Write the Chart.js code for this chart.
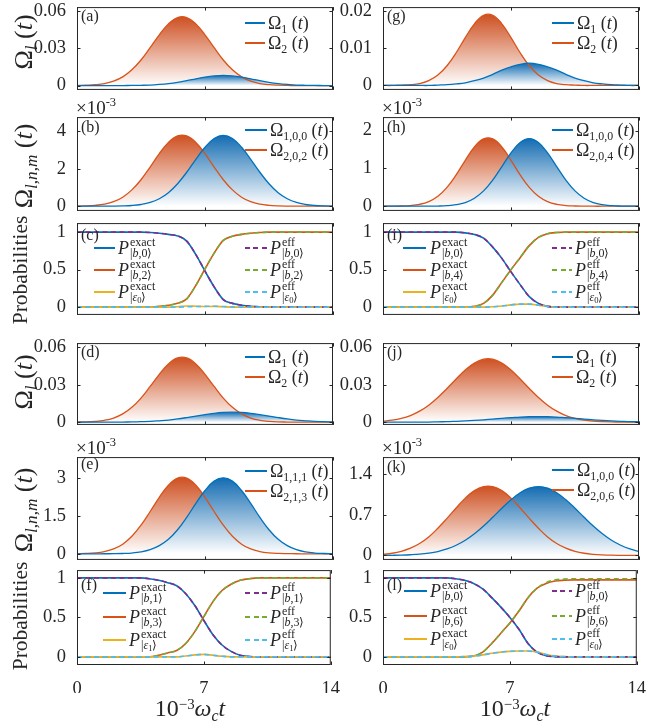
<!DOCTYPE html>
<html>
<head>
<meta charset="utf-8">
<title>Pulses and populations</title>
<script src="https://cdn.jsdelivr.net/npm/chart.js@4.4.1/dist/chart.umd.min.js"></script>
<style>
  html, body { margin: 0; padding: 0; background: #fff; }
  body { position: relative; width: 668px; height: 721px; overflow: hidden; color: #262626; }
  canvas { position: absolute; }
  .t { position: absolute; white-space: nowrap; line-height: 1; }
  .rot { transform: translate(-50%, -50%) rotate(-90deg); }
  .ctr { transform: translate(-50%, -50%); }
  .mid { transform: translateY(-50%); }
  .sb { font-size: 0.66em; vertical-align: -0.3em; line-height: 0; }
  .sp { font-size: 0.66em; vertical-align: 0.6em; line-height: 0; }
  .sp2 { font-size: 0.62em; vertical-align: 0.45em; line-height: 0; }
  .key { position: absolute; height: 2px; }
  .pl { position: absolute; height: 18px; line-height: 18px; transform: translateY(-50%); white-space: nowrap; }
  .pl .u, .pl .d { position: absolute; left: 12px; line-height: 11px; font-style: normal; }
  .pl .u { top: -2.5px; }
  .pl .d { top: 9px; }
  .pl .e { font-size: 0.72em; vertical-align: -2px; }
</style>
</head>
<body>
<script>
const T = [0,0.5,1,1.5,2,2.5,3,3.5,4,4.5,5,5.5,6,6.5,7,7.5,8,8.5,9,9.5,10,10.5,11,11.5,12,12.5,13,13.5,14];
const X_TICKS = [0, 7, 14];

// pulse amplitudes (blue = Omega_1 family, orange = Omega_2 family)
const a_om1 = [0,0,0,0,0,0,0.0001,0.0002,0.0004,0.0009,0.0016,0.0026,0.0039,0.0054,0.0068,0.0078,0.0082,0.0078,0.0068,0.0054,0.0039,0.0026,0.0016,0.0009,0.0004,0.0002,0.0001,0,0];
const a_om2 = [0.0001,0.0003,0.0007,0.0016,0.0036,0.0070,0.0127,0.0206,0.0305,0.0409,0.0497,0.0548,0.0548,0.0497,0.0409,0.0305,0.0206,0.0127,0.0070,0.0036,0.0016,0.0007,0.0003,0.0001,0,0,0,0,0];
const b_om1 = [0,0,0,0.002,0.005,0.015,0.038,0.092,0.20,0.40,0.72,1.20,1.81,2.50,3.14,3.61,3.78,3.61,3.14,2.50,1.81,1.20,0.72,0.40,0.20,0.092,0.038,0.015,0.005];
const b_om2 = [0.006,0.017,0.046,0.11,0.24,0.48,0.87,1.41,2.09,2.80,3.40,3.75,3.75,3.40,2.80,2.09,1.41,0.87,0.48,0.24,0.11,0.046,0.017,0.006,0.002,0,0,0,0];
const d_om1 = [0,0,0,0,0,0.0001,0.0002,0.0004,0.0006,0.0011,0.0017,0.0026,0.0037,0.0049,0.0060,0.0071,0.0078,0.0080,0.0078,0.0071,0.0060,0.0049,0.0037,0.0026,0.0017,0.0011,0.0006,0.0004,0.0002];
const d_om2 = [0.0001,0.0002,0.0006,0.0015,0.0033,0.0066,0.0119,0.0193,0.0286,0.0383,0.0466,0.0514,0.0514,0.0466,0.0383,0.0286,0.0193,0.0119,0.0066,0.0033,0.0015,0.0006,0.0002,0.0001,0,0,0,0,0];
const e_om1 = [0,0,0,0.001,0.004,0.012,0.03,0.073,0.16,0.32,0.57,0.95,1.44,1.99,2.50,2.87,3.0,2.87,2.50,1.99,1.44,0.95,0.57,0.32,0.16,0.073,0.03,0.012,0.004];
const e_om2 = [0.005,0.014,0.037,0.089,0.19,0.38,0.69,1.13,1.67,2.23,2.71,2.99,2.99,2.71,2.23,1.67,1.13,0.69,0.38,0.19,0.089,0.037,0.014,0.005,0.001,0,0,0,0];
const g_om1 = [0,0,0,0,0,0,0.0001,0.0002,0.0004,0.0007,0.0013,0.0020,0.0030,0.0041,0.0050,0.0057,0.0060,0.0057,0.0050,0.0041,0.0030,0.0020,0.0013,0.0007,0.0004,0.0002,0.0001,0,0];
const g_om2 = [0,0,0.0001,0.0002,0.0005,0.0013,0.0028,0.0053,0.0088,0.0129,0.0166,0.0189,0.0189,0.0166,0.0129,0.0088,0.0053,0.0028,0.0013,0.0005,0.0002,0.0001,0,0,0,0,0,0,0];
const h_om1 = [0,0,0,0,0.0004,0.0014,0.005,0.015,0.040,0.097,0.211,0.405,0.691,1.049,1.411,1.686,1.79,1.686,1.411,1.049,0.691,0.405,0.211,0.097,0.040,0.015,0.005,0.0014,0.0004];
const h_om2 = [0,0.002,0.006,0.018,0.050,0.122,0.263,0.498,0.829,1.215,1.567,1.781,1.781,1.567,1.215,0.829,0.498,0.263,0.122,0.050,0.018,0.006,0.002,0,0,0,0,0,0];
const j_om1 = [0,0,0,0,0.0001,0.0001,0.0003,0.0004,0.0007,0.0010,0.0014,0.0019,0.0025,0.0031,0.0036,0.0041,0.0044,0.0045,0.0044,0.0041,0.0036,0.0031,0.0025,0.0019,0.0014,0.0010,0.0007,0.0004,0.0003];
const j_om2 = [0.0008,0.0016,0.0030,0.0053,0.0088,0.0136,0.0198,0.0270,0.0346,0.0418,0.0473,0.0504,0.0504,0.0473,0.0418,0.0346,0.0270,0.0198,0.0136,0.0088,0.0053,0.0030,0.0016,0.0008,0.0004,0.0002,0.0001,0,0];
const k_om1 = [0.001,0.003,0.006,0.012,0.022,0.040,0.068,0.112,0.176,0.262,0.374,0.508,0.659,0.815,0.962,1.083,1.163,1.19,1.163,1.083,0.962,0.815,0.659,0.508,0.374,0.262,0.176,0.112,0.068];
const k_om2 = [0.019,0.038,0.072,0.126,0.207,0.32,0.47,0.64,0.82,0.99,1.12,1.19,1.19,1.12,0.99,0.82,0.64,0.47,0.32,0.207,0.126,0.072,0.038,0.019,0.009,0.004,0.002,0.001,0];

// populations
const c_b0 = [1,1,1,1,1,1,1,1,0.995,0.985,0.97,0.95,0.88,0.7,0.48,0.27,0.1,0.05,0.025,0.01,0.003,0,0,0,0,0,0,0,0];
const c_b2 = [0,0,0,0,0,0,0,0,0,0.01,0.025,0.05,0.11,0.29,0.51,0.72,0.89,0.945,0.97,0.985,0.995,1,1,1,1,1,1,1,1];
const c_e0 = [0,0,0,0,0,0,0,0,0,0,0,0.005,0.015,0.012,0.008,0.01,0.005,0,0,0,0,0,0,0,0,0,0,0,0];
const c_e0eff = [0,0,0,0,0,0,0,0,0,0,0,0,0.005,0.008,0.01,0.012,0.008,0.003,0,0,0,0,0,0,0,0,0,0,0];
const f_b1 = [1,1,1,1,1,1,1,1,0.99,0.97,0.94,0.9,0.8,0.65,0.46,0.28,0.15,0.07,0.02,0.005,0,0,0,0,0,0,0,0,0];
const f_b3 = [0,0,0,0,0,0,0,0,0,0.02,0.05,0.08,0.17,0.32,0.51,0.7,0.84,0.92,0.97,0.99,1,1,1,1,1,1,1,1,1];
const f_e1 = [0,0,0,0,0,0,0,0,0,0,0,0,0.01,0.025,0.032,0.02,0.008,0,0,0,0,0,0,0,0,0,0,0,0];
const i_b0 = [1,1,1,1,1,1,1,1,1,0.99,0.97,0.92,0.8,0.65,0.47,0.3,0.14,0.05,0.01,0,0,0,0,0,0,0,0,0,0];
const i_b4 = [0,0,0,0,0,0,0,0,0,0,0.01,0.05,0.16,0.33,0.5,0.66,0.82,0.93,0.98,0.995,1,1,1,1,1,1,1,1,1];
const i_e0 = [0,0,0,0,0,0,0,0,0,0,0,0,0.005,0.015,0.03,0.04,0.04,0.025,0.01,0,0,0,0,0,0,0,0,0,0];
const l_b0 = [1,1,1,1,1,1,1,1,0.99,0.97,0.93,0.86,0.75,0.63,0.5,0.35,0.17,0.06,0.015,0.003,0,0,0,0,0,0,0,0,0];
const l_b6 = [0,0,0,0,0,0,0,0,0,0,0.01,0.06,0.17,0.3,0.43,0.58,0.75,0.87,0.93,0.96,0.97,0.975,0.975,0.975,0.975,0.975,0.975,0.975,0.975];
const l_b6eff = [0,0,0,0,0,0,0,0,0,0,0.01,0.06,0.17,0.3,0.43,0.58,0.75,0.87,0.94,0.975,0.985,0.99,0.99,0.99,0.99,0.99,0.99,0.99,0.99];
const l_e0 = [0,0,0,0,0,0,0,0,0,0.003,0.01,0.025,0.045,0.06,0.07,0.075,0.074,0.06,0.03,0.01,0.003,0,0,0,0,0,0,0,0];

// y ticks
const yt_big = [0, 0.03, 0.06];
const yt_g = [0, 0.01, 0.02];
const yt_b = [0, 2, 4];
const yt_h = [0, 1, 2];
const yt_e = [0, 1.5, 3];
const yt_k = [0, 0.7, 1.4];
const yt_p = [0, 0.5, 1];

const BLUE = '#0072BD', ORANGE = '#D95319', YELLOW = '#EDB120',
      PURPLE = '#7E2F8E', GREEN = '#77AC30', CYAN = '#4DBEEE';

// pick a Times-like face if one is there, and shrink sizes if we fall back to a wider one
function pickFont(list) {
  const c = document.createElement('canvas').getContext('2d');
  const s = 'Probabilities 0.06';
  c.font = '100px monospace';
  const base = c.measureText(s).width;
  for (const f of list) {
    c.font = '100px "' + f + '", monospace';
    if (Math.abs(c.measureText(s).width - base) > 0.5) return f;
  }
  return 'serif';
}
const FONT = pickFont(['Liberation Serif', 'Tinos', 'Times New Roman', 'Times', 'Nimbus Roman', 'Nimbus Roman No9 L', 'FreeSerif', 'Noto Serif', 'DejaVu Serif Condensed', 'DejaVu Serif']);
const FAM = '"' + FONT + '", serif';
const FS = (() => {
  const c = document.createElement('canvas').getContext('2d');
  c.font = '100px ' + FAM;
  return Math.max(0.8, Math.min(1, 505 / c.measureText('Probabilities').width));
})();
document.body.style.fontFamily = FAM;
Chart.defaults.font.family = FAM;

const pts = arr => arr.map((v, i) => ({x: T[i], y: v}));

// vertical fade from the curve's own peak down to white at zero
function fade(rgb) {
  return c => {
    const ch = c.chart;
    if (!ch.chartArea) return 'rgba(0,0,0,0)';
    const ys = ch.scales.y;
    const top = ys.getPixelForValue(Math.max(...c.dataset.data.map(p => p.y)));
    const bot = ys.getPixelForValue(0);
    const g = ch.ctx.createLinearGradient(0, top, 0, bot);
    g.addColorStop(0, 'rgb(' + rgb + ')');
    g.addColorStop(1, 'rgb(255,255,255)');
    return g;
  };
}

function pulseSets(s1, s2) {
  return [
    {data: pts(s1), borderColor: BLUE, borderWidth: 1.3, fill: 'origin', backgroundColor: fade('20,108,178'), tension: 0.4},
    {data: pts(s2), borderColor: ORANGE, borderWidth: 1.3, fill: 'origin', backgroundColor: fade('206,82,36'), tension: 0.4}
  ];
}

function probSets(b, c, e, bE, cE, eE) {
  const solid = (d, col) => ({data: pts(d), borderColor: col, borderWidth: 1.6, order: 2, cubicInterpolationMode: 'monotone'});
  const dash = (d, col) => ({data: pts(d), borderColor: col, borderWidth: 1.6, borderDash: [5, 3.5], order: 1, cubicInterpolationMode: 'monotone'});
  return [dash(eE, CYAN), dash(cE, GREEN), dash(bE, PURPLE), solid(e, YELLOW), solid(c, ORANGE), solid(b, BLUE)];
}

// box with inward ticks on all four sides
const boxPlugin = {
  id: 'box',
  afterDraw(ch) {
    const {ctx, chartArea: a} = ch;
    const xs = ch.scales.x, ys = ch.scales.y;
    ctx.save();
    ctx.strokeStyle = '#262626';
    ctx.lineWidth = 1;
    ctx.strokeRect(a.left + 0.5, a.top + 0.5, a.right - a.left - 1, a.bottom - a.top - 1);
    ctx.beginPath();
    ys.ticks.forEach(tk => {
      const py = Math.round(ys.getPixelForValue(tk.value)) + 0.5;
      ctx.moveTo(a.left, py); ctx.lineTo(a.left + 3.5, py);
      ctx.moveTo(a.right, py); ctx.lineTo(a.right - 3.5, py);
    });
    xs.ticks.forEach(tk => {
      const px = Math.round(xs.getPixelForValue(tk.value)) + 0.5;
      ctx.moveTo(px, a.top); ctx.lineTo(px, a.top + 3.5);
      ctx.moveTo(px, a.bottom); ctx.lineTo(px, a.bottom - 3.5);
    });
    ctx.stroke();
    ctx.restore();
  }
};

function panel(p) {
  const PT = 12, PR = 12, YW = 70, XH = p.bottom ? 28 : 0, PB = p.bottom ? 6 : 10;
  const h = p.y1 - p.y0;
  const cv = document.createElement('canvas');
  cv.width = 256 + YW + PR;
  cv.height = h + PT + XH + PB;
  cv.style.left = (p.x - YW) + 'px';
  cv.style.top = (p.y0 - PT) + 'px';
  document.body.appendChild(cv);
  new Chart(cv, {
    type: 'line',
    data: {datasets: p.sets},
    options: {
      responsive: false, animation: false, events: [],
      layout: {padding: {top: PT, right: PR, bottom: PB, left: 0}},
      elements: {point: {radius: 0}},
      plugins: {legend: {display: false}, tooltip: {enabled: false}, filler: {drawTime: 'beforeDatasetsDraw'}},
      scales: {
        x: {type: 'linear', min: 0, max: 14,
            afterBuildTicks: s => { s.ticks = X_TICKS.map(v => ({value: v})); },
            afterFit: s => { s.height = XH; },
            grid: {display: false}, border: {display: false},
            ticks: {display: !!p.bottom, padding: 5, maxRotation: 0, color: '#262626', font: {size: 18.5 * FS}, callback: v => String(v)}},
        y: {min: p.ymin, max: p.ymax,
            afterBuildTicks: s => { s.ticks = p.yt.map(v => ({value: v})); },
            afterFit: s => { s.width = YW; },
            grid: {display: false}, border: {display: false},
            ticks: {padding: 3, color: '#262626', font: {size: 18.5 * FS}, callback: v => String(v)}}
      }
    },
    plugins: [boxPlugin]
  });
}

const LX = 77, RX = 383;
const ROW = {a: [5, 94], b: [115, 215], c: [221, 319], d: [341, 429], e: [455, 564], f: [568, 665]};

const panels = [
  {x: LX, r: 'a', ymin: -0.0035, ymax: 0.0632, yt: yt_big, sets: pulseSets(a_om1, a_om2)},
  {x: LX, r: 'b', ymin: -0.25, ymax: 4.75, yt: yt_b, sets: pulseSets(b_om1, b_om2)},
  {x: LX, r: 'c', ymin: -0.104, ymax: 1.121, yt: yt_p, sets: probSets(c_b0, c_b2, c_e0, c_b0, c_b2, c_e0eff)},
  {x: LX, r: 'd', ymin: -0.0022, ymax: 0.0633, yt: yt_big, sets: pulseSets(d_om1, d_om2)},
  {x: LX, r: 'e', ymin: -0.242, ymax: 3.82, yt: yt_e, sets: pulseSets(e_om1, e_om2)},
  {x: LX, r: 'f', ymin: -0.103, ymax: 1.099, yt: yt_p, bottom: true, sets: probSets(f_b1, f_b3, f_e1, f_b1, f_b3, f_e1)},
  {x: RX, r: 'a', ymin: -0.0012, ymax: 0.0211, yt: yt_g, sets: pulseSets(g_om1, g_om2)},
  {x: RX, r: 'b', ymin: -0.124, ymax: 2.357, yt: yt_h, sets: pulseSets(h_om1, h_om2)},
  {x: RX, r: 'c', ymin: -0.104, ymax: 1.121, yt: yt_p, sets: probSets(i_b0, i_b4, i_e0, i_b0, i_b4, i_e0)},
  {x: RX, r: 'd', ymin: -0.0022, ymax: 0.0633, yt: yt_big, sets: pulseSets(j_om1, j_om2)},
  {x: RX, r: 'e', ymin: -0.077, ymax: 1.699, yt: yt_k, sets: pulseSets(k_om1, k_om2)},
  {x: RX, r: 'f', ymin: -0.103, ymax: 1.099, yt: yt_p, bottom: true, sets: probSets(l_b0, l_b6, l_e0, l_b0, l_b6eff, l_e0)}
];
panels.forEach(p => { p.y0 = ROW[p.r][0]; p.y1 = ROW[p.r][1]; panel(p); });

// ---- text and keys ----
function txt(html, x, y, cls, size) {
  const d = document.createElement('div');
  d.className = 't ' + cls;
  d.innerHTML = html;
  d.style.left = x + 'px';
  d.style.top = y + 'px';
  d.style.fontSize = (size * FS) + 'px';
  document.body.appendChild(d);
}
function key(x1, x2, y, col, dashed) {
  const d = document.createElement('div');
  d.className = 'key';
  d.style.left = x1 + 'px';
  d.style.width = (x2 - x1) + 'px';
  d.style.top = (y - 1) + 'px';
  d.style.background = dashed ? 'repeating-linear-gradient(90deg,' + col + ' 0 5px,transparent 5px 8.5px)' : col;
  document.body.appendChild(d);
}
function pkey(x, y, sup, sub) {
  const d = document.createElement('div');
  d.className = 'pl';
  d.style.left = x + 'px';
  d.style.top = y + 'px';
  d.style.fontSize = (18 * FS) + 'px';
  d.innerHTML = '<i>P</i><span class="u" style="font-size:' + (12 * FS) + 'px">' + sup +
                '</span><span class="d" style="font-size:' + (12 * FS) + 'px">' + sub + '</span>';
  document.body.appendChild(d);
}

const omLab = 'Ω<span class="sb"><i>l</i></span> (<i>t</i>)';
const omnmLab = 'Ω<span class="sb"><i>l,n,m</i></span> (<i>t</i>)';
txt(omLab, 24, 42, 'rot', 26);
txt(omnmLab, 24, 166, 'rot', 26);
txt('Probabilities', 21, 270, 'rot', 21.5);
txt(omLab, 24, 382, 'rot', 26);
txt(omnmLab, 24, 510, 'rot', 26);
txt('Probabilities', 21, 616, 'rot', 21.5);

const xLab = '10<span class="sp2">−3</span><i>ω</i><span class="sb"><i>c</i></span><i>t</i>';
txt(xLab, 190, 709, 'ctr', 24);
txt(xLab, 515, 709, 'ctr', 24);

[[LX, 107], [LX, 447], [RX, 107], [RX, 447]].forEach(q =>
  txt('×10<span class="sp">-3</span>', q[0] - 1, q[1], 'mid', 19));

const tags = [['(a)', LX, 16], ['(b)', LX, 127], ['(c)', LX, 235], ['(d)', LX, 352], ['(e)', LX, 464], ['(f)', LX, 585],
              ['(g)', RX, 16], ['(h)', RX, 127], ['(i)', RX, 235], ['(j)', RX, 352], ['(k)', RX, 467], ['(l)', RX, 585]];
tags.forEach(q => txt(q[0], q[1] + 4, q[2], 'mid', 16));

// pulse legends
const omKeys = [
  [245, 265, 268, 23, '1', '2'], [552, 574, 577, 23, '1', '2'],
  [245, 267, 270, 130, '1,0,0', '2,0,2'], [552, 573, 576, 130, '1,0,0', '2,0,4'],
  [245, 265, 268, 357, '1', '2'], [552, 573, 576, 357, '1', '2'],
  [245, 267, 270, 471, '1,1,1', '2,1,3'], [552, 574, 577, 470, '1,0,0', '2,0,6']
];
omKeys.forEach(k => {
  key(k[0], k[1], k[3], BLUE);
  key(k[0], k[1], k[3] + 20, ORANGE);
  txt('Ω<span class="sb">' + k[4] + '</span> (<i>t</i>)', k[2], k[3], 'mid', 18);
  txt('Ω<span class="sb">' + k[5] + '</span> (<i>t</i>)', k[2], k[3] + 20, 'mid', 18);
});

// population legends
const ket = s => '|' + s + '⟩';
const eps = n => '<i>ε</i><span class="e">' + n + '</span>';
const popKeys = [
  {l: [94, 115, 118], r: [245, 267, 270], ys: [248, 270, 292], st: ['<i>b</i>,0', '<i>b</i>,2', eps(0)]},
  {l: [403, 426, 430], r: [552, 572, 575], ys: [248, 270, 292], st: ['<i>b</i>,0', '<i>b</i>,4', eps(0)]},
  {l: [103, 126, 129], r: [245, 267, 270], ys: [593, 617, 640], st: ['<i>b</i>,1', '<i>b</i>,3', eps(1)]},
  {l: [404, 427, 430], r: [552, 572, 575], ys: [591, 616, 639], st: ['<i>b</i>,0', '<i>b</i>,6', eps(0)]}
];
popKeys.forEach(k => {
  const ex = [BLUE, ORANGE, YELLOW], ef = [PURPLE, GREEN, CYAN];
  k.ys.forEach((y, i) => {
    key(k.l[0], k.l[1], y, ex[i]);
    pkey(k.l[2], y, 'exact', ket(k.st[i]));
    key(k.r[0], k.r[1], y, ef[i], true);
    pkey(k.r[2], y, 'eff', ket(k.st[i]));
  });
});
</script>
</body>
</html>
